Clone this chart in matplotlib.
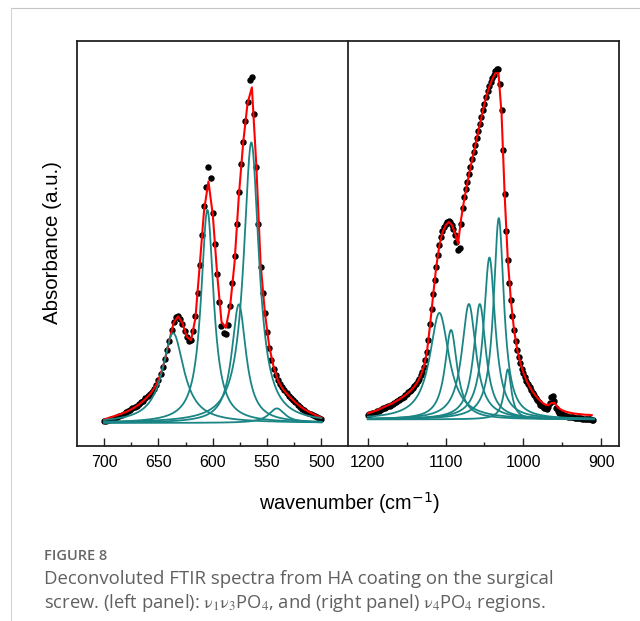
import numpy as np
import matplotlib
matplotlib.use('Agg')
import matplotlib.pyplot as plt
from matplotlib.lines import Line2D

# measured absorbance, left panel (v1v3 PO4), every 2 cm-1 from 700 down to 500
left_wn = np.arange(700, 499, -2)
left_abs = [
    0.005, 0.006, 0.008, 0.010, 0.012, 0.014, 0.017, 0.020, 0.023, 0.026,
    0.030, 0.033, 0.037, 0.041, 0.045, 0.049, 0.053, 0.058, 0.063, 0.069,
    0.075, 0.081, 0.088, 0.097, 0.108, 0.122, 0.138, 0.158, 0.180, 0.205,
    0.232, 0.262, 0.285, 0.298, 0.300, 0.292, 0.278, 0.260, 0.243, 0.232,
    0.235, 0.258, 0.300, 0.365, 0.445, 0.530, 0.610, 0.665, 0.720, 0.690,
    0.590, 0.505, 0.420, 0.340, 0.272, 0.252, 0.250, 0.275, 0.330, 0.395,
    0.470, 0.560, 0.650, 0.730, 0.790, 0.850, 0.905, 0.965, 0.975, 0.870,
    0.720, 0.560, 0.440, 0.365, 0.310, 0.255, 0.210, 0.178, 0.152, 0.134,
    0.120, 0.109, 0.100, 0.092, 0.085, 0.077, 0.070, 0.064, 0.058, 0.051,
    0.045, 0.040, 0.036, 0.032, 0.028, 0.025, 0.022, 0.019, 0.016, 0.014,
    0.012]

# cumulative fit, left panel, every 4 cm-1 from 700 down to 500
left_fit_wn = np.arange(700, 499, -4)
left_fit = [
    0.010, 0.014, 0.018, 0.022, 0.026, 0.031, 0.037, 0.044, 0.052, 0.062,
    0.074, 0.088, 0.108, 0.137, 0.178, 0.232, 0.283, 0.300, 0.282, 0.243,
    0.233, 0.295, 0.445, 0.600, 0.680, 0.586, 0.420, 0.285, 0.268, 0.330,
    0.450, 0.640, 0.790, 0.900, 0.945, 0.730, 0.450, 0.310, 0.215, 0.158,
    0.120, 0.098, 0.083, 0.070, 0.058, 0.048, 0.039, 0.032, 0.026, 0.020,
    0.015]

# fitted bands, left panel: centre, height, half width
left_centres = [636.5, 605.0, 576.0, 564.5, 541.0]
left_heights = [0.253, 0.600, 0.334, 0.790, 0.041]
left_hwhm = [12.0, 7.0, 8.0, 8.5, 9.0]
left_base = 0.0

# measured absorbance, right panel (v4 PO4), every 2 cm-1 from 1200 down to 910
right_wn = np.arange(1200, 909, -2)
right_abs = [
    0.023, 0.024, 0.026, 0.027, 0.029, 0.031, 0.033, 0.035, 0.037, 0.039,
    0.041, 0.043, 0.045, 0.047, 0.049, 0.051, 0.053, 0.056, 0.059, 0.062,
    0.065, 0.068, 0.071, 0.074, 0.078, 0.082, 0.086, 0.090, 0.094, 0.099,
    0.104, 0.110, 0.117, 0.125, 0.134, 0.144, 0.158, 0.176, 0.200, 0.235,
    0.278, 0.322, 0.362, 0.402, 0.440, 0.474, 0.502, 0.524, 0.540, 0.552,
    0.560, 0.566, 0.569, 0.567, 0.558, 0.545, 0.530, 0.510, 0.488, 0.492,
    0.560, 0.605, 0.635, 0.658, 0.678, 0.700, 0.722, 0.742, 0.762, 0.782,
    0.802, 0.822, 0.842, 0.861, 0.880, 0.899, 0.918, 0.935, 0.950, 0.961,
    0.970, 0.980, 0.990, 0.998, 0.998, 0.955, 0.880, 0.770, 0.645, 0.540,
    0.460, 0.395, 0.345, 0.300, 0.262, 0.230, 0.205, 0.185, 0.168, 0.153,
    0.140, 0.129, 0.118, 0.109, 0.100, 0.092, 0.085, 0.078, 0.071, 0.064,
    0.058, 0.052, 0.047, 0.043, 0.041, 0.040, 0.044, 0.055, 0.072, 0.075,
    0.062, 0.042, 0.033, 0.029, 0.026, 0.024, 0.022, 0.021, 0.019, 0.018,
    0.017, 0.016, 0.016, 0.015, 0.014, 0.014, 0.013, 0.013, 0.012, 0.012,
    0.011, 0.011, 0.010, 0.010, 0.009, 0.009]

# cumulative fit, right panel, every 4 cm-1 from 1200 down to 912
right_fit_wn = np.arange(1200, 911, -4)
right_fit = [
    0.027, 0.030, 0.033, 0.036, 0.040, 0.044, 0.048, 0.052, 0.056, 0.061,
    0.066, 0.072, 0.078, 0.085, 0.093, 0.103, 0.116, 0.133, 0.158, 0.200,
    0.275, 0.360, 0.440, 0.500, 0.537, 0.556, 0.566, 0.558, 0.535, 0.505,
    0.575, 0.630, 0.676, 0.720, 0.760, 0.800, 0.840, 0.880, 0.917, 0.945,
    0.968, 0.985, 0.985, 0.870, 0.640, 0.460, 0.345, 0.263, 0.208, 0.170,
    0.142, 0.120, 0.102, 0.088, 0.076, 0.066, 0.058, 0.052, 0.050, 0.056,
    0.057, 0.045, 0.038, 0.034, 0.031, 0.029, 0.027, 0.026, 0.025, 0.024,
    0.023, 0.023, 0.022]

# fitted bands, right panel: centre, height, half width
right_centres = [1108.0, 1093.0, 1070.0, 1056.0, 1043.6, 1031.6, 1020.0]
right_heights = [0.300, 0.252, 0.325, 0.325, 0.456, 0.567, 0.141]
right_hwhm = [15.0, 9.5, 11.0, 9.5, 9.0, 8.0, 5.5]
right_base = 0.01

TEAL = '#1b8585'
RED = '#ff0000'


def lorentz(x, c, h, w):
    return h / (1 + ((x - c) / w) ** 2)


def draw_panel(ax, wn, absb, fit_wn, fit, centres, heights, hwhm, base, x0, x1):
    xs = np.linspace(x0, x1, 800)
    ax.plot(wn, absb, 'o', color='black', ms=3.6, mec='black', zorder=1)
    ax.plot(fit_wn, fit, color=RED, lw=1.5, zorder=2)
    for c, h, w in zip(centres, heights, hwhm):
        ax.plot(xs, lorentz(xs, c, h, w) + base, color=TEAL, lw=1.3, zorder=3)


plt.rcParams['font.family'] = ['Liberation Sans', 'DejaVu Sans']
plt.rcParams['mathtext.fontset'] = 'stix'
fig = plt.figure(figsize=(6.4, 6.21), dpi=100)

W, H = 640.0, 621.0
bottom = (H - 445.7) / H
height = 405.2 / H
ax1 = fig.add_axes([76.5 / W, bottom, 271.5 / W, height])
ax2 = fig.add_axes([348 / W, bottom, 271 / W, height])

draw_panel(ax1, left_wn, left_abs, left_fit_wn, left_fit,
           left_centres, left_heights, left_hwhm, left_base, 700, 500)
draw_panel(ax2, right_wn, right_abs, right_fit_wn, right_fit,
           right_centres, right_heights, right_hwhm, right_base, 1200, 909)

ax1.set_xlim(725.5, 475.5)
ax2.set_xlim(1225.5, 877)
for ax in (ax1, ax2):
    ax.set_ylim(-0.064, 1.077)
    ax.set_yticks([])
    for s in ax.spines.values():
        s.set_linewidth(1.3)
        s.set_color('#222222')
    ax.tick_params(axis='x', which='major', direction='in', length=5.5, width=1,
                   labelsize=11.5, pad=7, color='#222222')
    ax.tick_params(axis='x', which='minor', direction='in', length=3, width=1,
                   color='#222222')
ax1.spines['right'].set_visible(False)
ax1.set_xticks([700, 650, 600, 550, 500])
ax1.set_xticks([675, 625, 575, 525], minor=True)
ax2.set_xticks([1200, 1100, 1000, 900])
ax2.set_xticks([1150, 1050, 950], minor=True)

fig.text(53 / W, 1 - 243 / H, 'Absorbance (a.u.)', rotation=90, ha='center', va='center',
         fontsize=14.8)
fig.text(350 / W, 1 - 503 / H, 'wavenumber (cm$^{-1}$)', ha='center', va='center',
         fontsize=14.3, math_fontfamily='dejavusans')

# caption
cap = ['Open Sans', 'DejaVu Sans']
fig.text(44 / W, 1 - 559.6 / H, 'FIGURE 8', ha='left', va='baseline', fontsize=10.5,
         color='#666666', family=cap, weight='semibold')
fig.text(44 / W, 1 - 584.5 / H, 'Deconvoluted FTIR spectra from HA coating on the surgical',
         ha='left', va='baseline', fontsize=13.4, color='#606060', family=cap)
fig.text(44 / W, 1 - 608 / H,
         r'screw. (left panel): $\mathrm{\nu_1\nu_3}$PO$_4$, and (right panel) $\mathrm{\nu_4}$PO$_4$ regions.',
         ha='left', va='baseline', fontsize=13.2, color='#606060', family=cap)

# page frame lines
fig.add_artist(Line2D([11 / W, 1], [1 - 8 / H, 1 - 8 / H], color='#c4c4c4', lw=0.8))
fig.add_artist(Line2D([11 / W, 11 / W], [0, 1 - 8 / H], color='#d4d4d4', lw=0.8))

fig.savefig('out.png', dpi=100)
